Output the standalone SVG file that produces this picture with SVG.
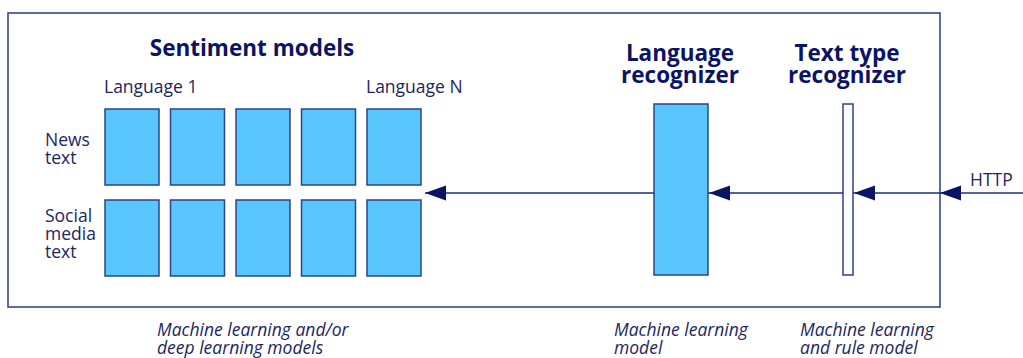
<svg xmlns="http://www.w3.org/2000/svg" width="1023" height="358" viewBox="0 0 1023 358">
<style>
text{font-family:"Open Sans","Noto Sans","Liberation Sans",sans-serif;fill:#0f1a5e}
.t{font-weight:bold;font-size:22.5px;fill:#0b1464}
.l{font-size:17.5px;fill:#1c2660}
.i{font-size:17.5px;font-style:italic;fill:#1c2660}
.b{fill:#58c6fd;stroke:#2c4488;stroke-width:1.5}
.w{fill:#fff;stroke:#2c4488;stroke-width:1.5}
.ln{stroke:#1f2e78;stroke-width:1.5;fill:none}
.ah{fill:#0a1466}
</style>
<rect id="frame" x="8" y="13" width="932" height="294" fill="none" stroke="#2c3b80" stroke-width="1.5"/>
<g id="sentiment-models">
<text class="t" x="252" y="56" text-anchor="middle">Sentiment models</text>
<text class="l" x="104" y="93">Language 1</text>
<text class="l" x="366" y="93">Language N</text>
<text class="l" x="45" y="146">News</text>
<text class="l" x="45" y="164">text</text>
<text class="l" x="45" y="222">Social</text>
<text class="l" x="45" y="240">media</text>
<text class="l" x="45" y="258">text</text>
<rect class="b" x="105" y="109" width="54" height="76"/>
<rect class="b" x="170.5" y="109" width="54" height="76"/>
<rect class="b" x="236" y="109" width="54" height="76"/>
<rect class="b" x="301.5" y="109" width="54" height="76"/>
<rect class="b" x="367" y="109" width="54" height="76"/>
<rect class="b" x="105" y="200" width="54" height="76"/>
<rect class="b" x="170.5" y="200" width="54" height="76"/>
<rect class="b" x="236" y="200" width="54" height="76"/>
<rect class="b" x="301.5" y="200" width="54" height="76"/>
<rect class="b" x="367" y="200" width="54" height="76"/>
<text class="i" x="157" y="336">Machine learning and/or</text>
<text class="i" x="157" y="354">deep learning models</text>
</g>
<g id="language-recognizer">
<text class="t" x="680" y="61" text-anchor="middle">Language</text>
<text class="t" x="680" y="83" text-anchor="middle">recognizer</text>
<rect class="b" x="654" y="104" width="54" height="171"/>
<text class="i" x="614" y="336">Machine learning</text>
<text class="i" x="614" y="354">model</text>
</g>
<g id="text-type-recognizer">
<text class="t" x="847" y="61" text-anchor="middle">Text type</text>
<text class="t" x="847" y="83" text-anchor="middle">recognizer</text>
<rect class="w" x="843" y="104" width="10" height="171"/>
<text class="i" x="800" y="336">Machine learning</text>
<text class="i" x="800" y="354">and rule model</text>
</g>
<g id="http">
<text class="l" x="970" y="186">HTTP</text>
</g>
<g id="connectors">
<line class="ln" x1="1023" y1="193" x2="940" y2="193"/>
<line class="ln" x1="940" y1="193" x2="853" y2="193"/>
<line class="ln" x1="843" y1="193" x2="708" y2="193"/>
<line class="ln" x1="654" y1="193" x2="425" y2="193"/>
<polygon class="ah" points="940,193 961,185.5 961,200.5"/>
<polygon class="ah" points="854,193 875,185.5 875,200.5"/>
<polygon class="ah" points="709,193 730,185.5 730,200.5"/>
<polygon class="ah" points="425,193 446,185.5 446,200.5"/>
</g>
</svg>
